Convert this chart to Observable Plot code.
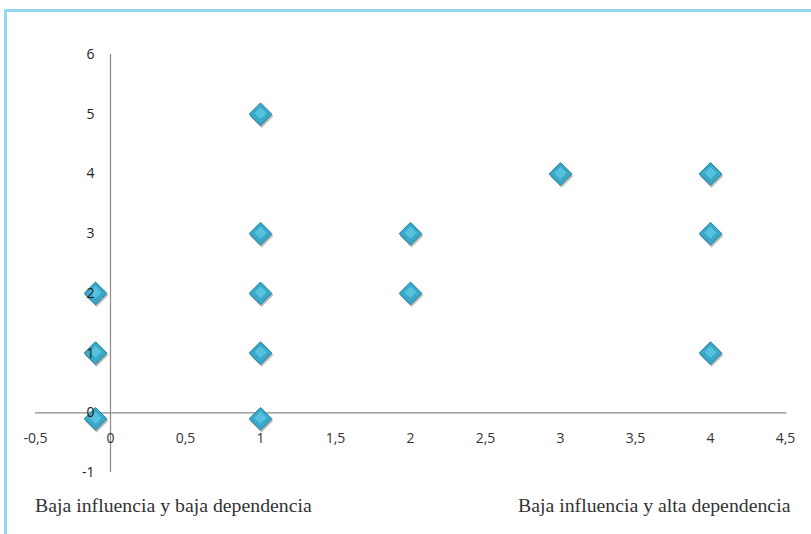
<!DOCTYPE html>
<html>
<head>
<meta charset="utf-8">
<script src="https://cdn.jsdelivr.net/npm/d3@7"></script>
<script src="https://cdn.jsdelivr.net/npm/@observablehq/plot@0.6"></script>
<style>
  html, body { margin: 0; padding: 0; background: #fff; width: 811px; height: 534px; overflow: hidden; }
  #wrap { position: relative; width: 811px; height: 534px; }
  #frame { position: absolute; left: 4px; top: 9px; width: 820px; height: 540px; border-top: 3px solid #94d8f0; border-left: 3px solid #94d8f0; box-sizing: border-box; }
  #chart { position: absolute; left: 0; top: 0; }
  .cap { position: absolute; top: 496px; font-family: "Liberation Serif", "DejaVu Serif", serif; font-size: 19.8px; line-height: 19px; color: #333; white-space: nowrap; }
</style>
</head>
<body>
<div id="wrap">
  <div id="frame"></div>
  <div id="chart"></div>
  <div class="cap" id="capL" style="left:35px;">Baja influencia y baja dependencia</div>
  <div class="cap" id="capR" style="left:518px;">Baja influencia y alta dependencia</div>
</div>
<script>
// Data
const xValues = [1, 1, 1, 1, 1, 2, 2, 3, 4, 4, 4, -0.1, -0.1, -0.1];
const yValues = [5, 3, 2, 1, -0.1, 3, 2, 4, 4, 3, 1, 2, 1, -0.1];
const xTicks = [-0.5, 0, 0.5, 1, 1.5, 2, 2.5, 3, 3.5, 4, 4.5];
const yTicks = [-1, 0, 1, 2, 3, 4, 5, 6];

const points = xValues.map((x, i) => ({x, y: yValues[i]}));
const fmt = d => String(d).replace(".", ",");

const chart = Plot.plot({
  width: 811,
  height: 490,
  marginLeft: 35,
  marginRight: 26,
  marginTop: 54,
  marginBottom: 18,
  x: {domain: [-0.5, 4.5], axis: null},
  y: {domain: [-1, 6], axis: null},
  style: {background: "transparent", overflow: "visible"},
  marks: [
    Plot.ruleY([0], {x1: -0.5, x2: 4.51, stroke: "#8a8a8a", strokeWidth: 1.2}),
    Plot.ruleX([0], {y1: -1, y2: 6, stroke: "#8a8a8a", strokeWidth: 1.2}),
    Plot.dot(points, {x: "x", y: "y", symbol: "diamond2", r: 10.6, fill: "#333", fillOpacity: 0.35, stroke: "none", dx: 1, dy: 2}),
    Plot.dot(points, {x: "x", y: "y", symbol: "diamond2", r: 10.2, fill: "#3aa9c9", stroke: "#217f9c", strokeWidth: 1}),
    Plot.dot(points, {x: "x", y: "y", symbol: "diamond2", r: 5.4, fill: "#56c2de", stroke: "none", dy: -1}),
    Plot.text(xTicks, {x: d => d, y: 0, text: d => fmt(d), dy: 26, fontFamily: "Open Sans, sans-serif", fontSize: 14, fill: "#333", textAnchor: "middle"}),
    Plot.text(yTicks, {x: 0, y: d => d, text: d => fmt(d), dx: -16, fontFamily: "Open Sans, sans-serif", fontSize: 14, fill: "#222", textAnchor: "end"})
  ]
});
document.getElementById("chart").appendChild(chart);
</script>
</body>
</html>
